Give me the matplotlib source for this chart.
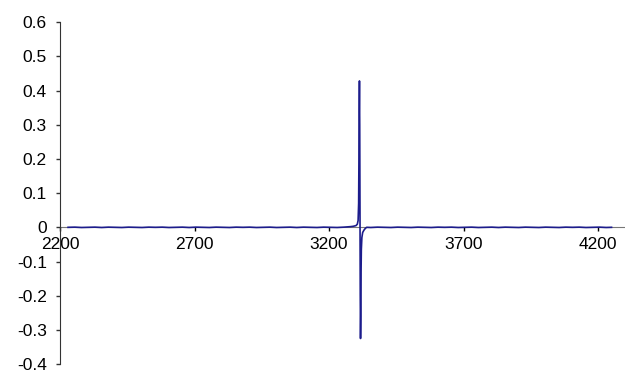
import numpy as np
import matplotlib
matplotlib.use('Agg')
import matplotlib.pyplot as plt

plt.rcParams['font.family'] = ['Liberation Sans', 'DejaVu Sans']

# field (x) and signal (y)
field = [2230, 2255, 2280, 2305, 2330, 2355, 2380, 2405, 2430, 2455,
         2480, 2505, 2530, 2555, 2580, 2605, 2630, 2655, 2680, 2705,
         2730, 2755, 2780, 2805, 2830, 2855, 2880, 2905, 2930, 2955,
         2980, 3005, 3030, 3055, 3080, 3105, 3130, 3155, 3180, 3205,
         3230, 3255, 3280, 3290, 3300, 3305, 3308, 3310, 3311, 3312,
         3313, 3314, 3315, 3316, 3317, 3318, 3319, 3320, 3322, 3325,
         3330, 3335, 3340, 3355, 3380, 3405, 3430, 3455, 3480, 3505,
         3530, 3555, 3580, 3605, 3630, 3655, 3680, 3705, 3730, 3755,
         3780, 3805, 3830, 3855, 3880, 3905, 3930, 3955, 3980, 4005,
         4030, 4055, 4080, 4105, 4130, 4155, 4180, 4205, 4230, 4250]
signal = [0.000, 0.0005, -0.0005, 0.000, 0.0005, -0.0005, 0.0005, 0.000, -0.0005, 0.0005,
          0.000, -0.0005, 0.0005, 0.000, 0.0005, -0.0005, 0.000, 0.0005, -0.0005, 0.0005,
          0.000, -0.0005, 0.0005, 0.000, -0.0005, 0.0005, 0.000, 0.0005, -0.0005, 0.000,
          0.0005, -0.0005, 0.000, 0.0005, -0.0005, 0.0005, 0.000, -0.0005, 0.0005, 0.000,
          -0.0005, 0.0005, 0.002, 0.003, 0.005, 0.009, 0.02, 0.07, 0.19, 0.34,
          0.428, 0.30, 0.05, -0.2, -0.325, -0.26, -0.13, -0.065, -0.03, -0.015,
          -0.008, -0.003, 0.000, -0.0005, 0.0005, 0.000, -0.0005, 0.0005, 0.000, -0.0005,
          0.0005, 0.000, -0.0005, 0.0005, 0.000, 0.0005, -0.0005, 0.000, 0.0005, -0.0005,
          0.000, 0.0005, -0.0005, 0.0005, 0.000, -0.0005, 0.0005, 0.000, -0.0005, 0.0005,
          0.000, -0.0005, 0.0005, 0.000, 0.0005, -0.0005, 0.000, 0.0005, -0.0005, 0.000]

xticks = [2200, 2700, 3200, 3700, 4200]
yticks = [-0.4, -0.3, -0.2, -0.1, 0, 0.1, 0.2, 0.3, 0.4, 0.5, 0.6]
ylabels = ['-0.4', '-0.3', '-0.2', '-0.1', '0', '0.1', '0.2', '0.3', '0.4', '0.5', '0.6']

fig = plt.figure(figsize=(6.25, 3.75), dpi=100)
ax = fig.add_axes([0.096, 0.029, 0.904, 0.912])

ax.plot(field, signal, color='#1c1c8c', linewidth=1.2)

ax.set_xlim(2200, 4300)
ax.set_ylim(-0.4, 0.6)

for s in ['top', 'right']:
   ax.spines[s].set_visible(False)
ax.spines['left'].set_position(('data', 2200))
ax.spines['left'].set_color('#333333')
ax.spines['bottom'].set_position(('data', 0))
ax.spines['bottom'].set_color('#777777')
ax.spines['bottom'].set_zorder(0)

ax.set_xticks(xticks)
ax.set_xticklabels([str(v) for v in xticks], fontsize=12.5)
ax.set_yticks(yticks)
ax.set_yticklabels(ylabels, fontsize=12.5)
ax.tick_params(axis='y', direction='out', length=3, width=1, color='#333333', pad=6.5)
ax.tick_params(axis='x', direction='out', length=3, width=1, color='#000000', pad=4)

fig.savefig('out.png', dpi=100)
